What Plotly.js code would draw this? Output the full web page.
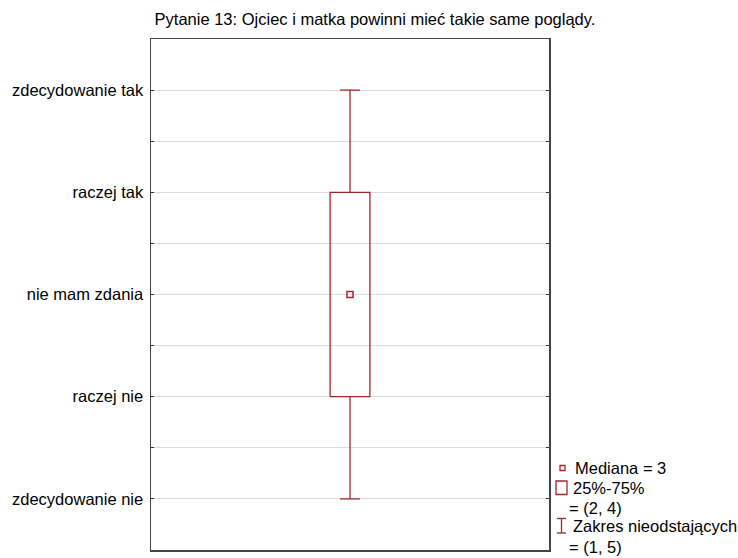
<!DOCTYPE html>
<html>
<head>
<meta charset="utf-8">
<script src="https://cdn.plot.ly/plotly-3.0.1.min.js"></script>
<style>
  html, body { margin: 0; padding: 0; background: #fff; }
  #chart { width: 738px; height: 558px; }
</style>
</head>
<body>
<div id="chart"></div>
<script>
// Answer scale (Likert, 1..5) and its labels
const categories = ['zdecydowanie nie', 'raczej nie', 'nie mam zdania', 'raczej tak', 'zdecydowanie tak'];
const scaleValues = [1, 2, 3, 4, 5];

// Box-plot statistics for question 13
const medianValue = [3];
const quartile25 = [2];
const quartile75 = [4];
const nonOutlierMin = [1];
const nonOutlierMax = [5];

const titleText = 'Pytanie 13: Ojciec i matka powinni mieć takie same poglądy.';

// Styling constants
const RED = '#a3262b';
const FONT = 'Liberation Sans, Arial, sans-serif';
const FS = 16.5;
const CX = 1;          // box centre on the hidden x axis
const BOX_HALF = 0.1;  // half width of the box
const CAP_HALF = 0.05; // half width of the whisker caps

const med = medianValue[0], q1 = quartile25[0], q3 = quartile75[0];
const lo = nonOutlierMin[0], hi = nonOutlierMax[0];

const boxTrace = {
  type: 'scatter', mode: 'lines',
  x: [CX - BOX_HALF, CX + BOX_HALF, CX + BOX_HALF, CX - BOX_HALF, CX - BOX_HALF],
  y: [q1, q1, q3, q3, q1],
  line: { color: RED, width: 1.3 },
  hoverinfo: 'skip', showlegend: false
};
const whiskerTrace = {
  type: 'scatter', mode: 'lines',
  x: [CX, CX, null, CX, CX, null, CX - CAP_HALF, CX + CAP_HALF, null, CX - CAP_HALF, CX + CAP_HALF],
  y: [q3, hi, null, q1, lo, null, hi, hi, null, lo, lo],
  line: { color: RED, width: 1.3 },
  hoverinfo: 'skip', showlegend: false
};
const medianTrace = {
  type: 'scatter', mode: 'markers',
  x: [CX], y: [med],
  marker: { symbol: 'square-open', size: 6, color: RED, line: { color: RED, width: 1.5 } },
  hoverinfo: 'skip', showlegend: false
};

// y tick values every half step; labels only on whole answers
const tickVals = [], tickText = [];
for (let v = 0.5; v <= 5.5; v += 0.5) {
  tickVals.push(v);
  const i = scaleValues.indexOf(v);
  tickText.push(i >= 0 ? categories[i] : '');
}

// Plot area geometry (pixels) used for the hand-drawn key on the right
const L = 151, R = 549, T = 39, B = 550;
const px = x => (x - L) / (R - L);
const py = y => (B - y) / (B - T);

const keyFont = { family: FONT, size: FS, color: '#000' };
const keyText = (x, y, text) => ({
  xref: 'paper', yref: 'paper', x: px(x), y: py(y), text: text,
  showarrow: false, xanchor: 'left', yanchor: 'middle', font: keyFont
});

const annotations = [
  keyText(573, 468, 'Mediana = ' + med),
  keyText(571, 488, '25%-75%'),
  keyText(567, 508, '= (' + q1 + ', ' + q3 + ')'),
  keyText(571, 526, 'Zakres nieodstających'),
  keyText(567, 547, '= (' + lo + ', ' + hi + ')')
];

const shapes = [
  // median symbol
  { type: 'rect', xref: 'paper', yref: 'paper', x0: px(560), x1: px(565), y0: py(470.5), y1: py(465.5),
    line: { color: RED, width: 1.3 } },
  // quartile box symbol
  { type: 'rect', xref: 'paper', yref: 'paper', x0: px(556), x1: px(567), y0: py(494.5), y1: py(481),
    line: { color: RED, width: 1.3 } },
  // whisker symbol
  { type: 'line', xref: 'paper', yref: 'paper', x0: px(561.5), x1: px(561.5), y0: py(518.5), y1: py(533),
    line: { color: RED, width: 1.3 } },
  { type: 'line', xref: 'paper', yref: 'paper', x0: px(557), x1: px(566), y0: py(518.5), y1: py(518.5),
    line: { color: RED, width: 1.3 } },
  { type: 'line', xref: 'paper', yref: 'paper', x0: px(557), x1: px(566), y0: py(533), y1: py(533),
    line: { color: RED, width: 1.3 } }
];

const layout = {
  width: 738, height: 558,
  margin: { l: L, r: 738 - R, t: T, b: 558 - B, pad: 0 },
  paper_bgcolor: '#fff', plot_bgcolor: '#fff',
  font: { family: FONT, size: FS, color: '#000' },
  title: {
    text: titleText,
    font: { family: FONT, size: FS, color: '#000' },
    xref: 'container', yref: 'container',
    x: 375 / 738, xanchor: 'center',
    y: 1 - 19 / 558, yanchor: 'middle'
  },
  xaxis: {
    range: [0, 2], showgrid: false, zeroline: false,
    showticklabels: false, ticks: '',
    showline: true, mirror: true, linecolor: '#444', linewidth: 1.5,
    fixedrange: true
  },
  yaxis: {
    range: [0.5, 5.5], tickmode: 'array', tickvals: tickVals, ticktext: tickText,
    showgrid: true, gridcolor: '#dcdcdc', gridwidth: 1, zeroline: false,
    ticks: 'inside', ticklen: 3, tickcolor: '#333', tickwidth: 1,
    ticklabelstandoff: 3,
    showline: true, mirror: 'ticks', linecolor: '#444', linewidth: 1.5,
    tickfont: { family: FONT, size: FS, color: '#000' },
    fixedrange: true
  },
  annotations: annotations,
  shapes: shapes,
  showlegend: false
};

Plotly.newPlot('chart', [boxTrace, whiskerTrace, medianTrace], layout, { staticPlot: true, displayModeBar: false });
</script>
</body>
</html>
